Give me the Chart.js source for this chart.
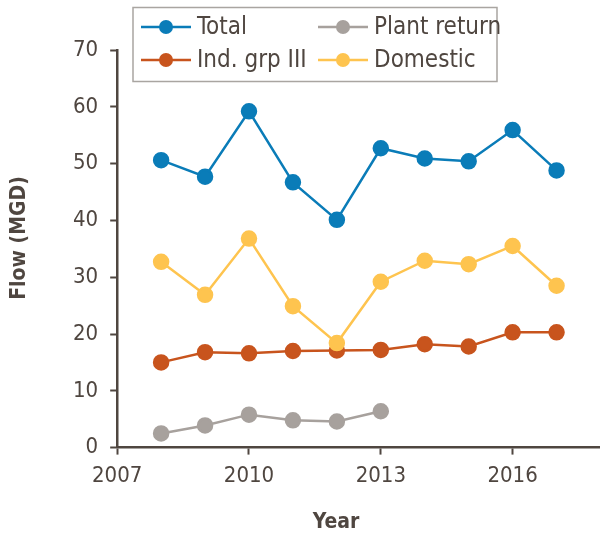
<!DOCTYPE html>
<html>
<head>
<meta charset="utf-8">
<script src="https://cdn.jsdelivr.net/npm/chart.js@4/dist/chart.umd.min.js"></script>
<style>
  html, body { margin: 0; background: #fff; overflow: hidden; }
  /* a little wider than the window so the x axis runs to the right edge */
  #wrap { width: 610px; height: 535px; position: relative; }
</style>
</head>
<body>
<div id="wrap"><canvas id="flowChart"></canvas></div>
<script>
// data
const years = [2008, 2009, 2010, 2011, 2012, 2013, 2014, 2015, 2016, 2017];
const totalFlow = [50.6, 47.7, 59.2, 46.7, 40.1, 52.7, 50.9, 50.4, 55.9, 48.8];
const indGrpIII = [15.0, 16.8, 16.6, 17.0, 17.1, 17.2, 18.2, 17.8, 20.3, 20.3];
const plantReturn = [2.5, 3.9, 5.8, 4.8, 4.6, 6.4];
const domestic = [32.7, 26.9, 36.8, 24.9, 18.4, 29.2, 32.9, 32.3, 35.5, 28.5];
const xTicks = [2007, 2010, 2013, 2016];
const yTicks = [0, 10, 20, 30, 40, 50, 60, 70];

const ink = '#4f4640';
const fontFamily = '"Liberation Sans Narrow", "DejaVu Sans Condensed", "Roboto Condensed", sans-serif';

function toPoints(values) {
    return values.map((v, i) => ({ x: years[i], y: v }));
}

function serie(label, values, color, order) {
    return {
        label: label,
        data: toPoints(values),
        borderColor: color,
        backgroundColor: color,
        pointBackgroundColor: color,
        pointBorderColor: color,
        pointRadius: 7,
        pointHoverRadius: 7,
        borderWidth: 2.5,
        tension: 0,
        order: order
    };
}

// legend box drawn by hand, two columns like the original
const boxLegend = {
    id: 'boxLegend',
    afterDraw(chart) {
        const ctx = chart.ctx;
        const sets = chart.data.datasets;
        const slots = [
            { i: 0, x: 141, y: 27 },
            { i: 2, x: 318, y: 27 },
            { i: 1, x: 141, y: 60 },
            { i: 3, x: 318, y: 60 }
        ];
        ctx.save();
        ctx.strokeStyle = '#a9a5a1';
        ctx.lineWidth = 1.5;
        ctx.strokeRect(133, 7.5, 364, 74);
        slots.forEach(s => {
            const ds = sets[s.i];
            ctx.strokeStyle = ds.borderColor;
            ctx.lineWidth = 2.5;
            ctx.beginPath();
            ctx.moveTo(s.x, s.y);
            ctx.lineTo(s.x + 50, s.y);
            ctx.stroke();
            ctx.fillStyle = ds.borderColor;
            ctx.beginPath();
            ctx.arc(s.x + 25, s.y, 7, 0, Math.PI * 2);
            ctx.fill();
            ctx.fillStyle = ink;
            ctx.font = '24px ' + fontFamily;
            ctx.textBaseline = 'middle';
            ctx.fillText(ds.label, s.x + 56, s.y + 1);
        });
        ctx.restore();
    }
};

// axis titles sit a bit off-centre in the original, so draw them here
const axisTitles = {
    id: 'axisTitles',
    afterDraw(chart) {
        const ctx = chart.ctx;
        const area = chart.chartArea;
        ctx.save();
        ctx.fillStyle = ink;
        ctx.font = 'bold 21px ' + fontFamily;
        ctx.textAlign = 'center';
        ctx.textBaseline = 'middle';
        ctx.fillText('Year', 336, area.bottom + 75);
        ctx.translate(20, 238);
        ctx.rotate(-Math.PI / 2);
        ctx.fillText('Flow (MGD)', 0, 0);
        ctx.restore();
    }
};

const ctxFlow = document.getElementById('flowChart').getContext('2d');
new Chart(ctxFlow, {
    type: 'line',
    data: {
        datasets: [
            serie('Total', totalFlow, '#0a7cb8', 1),
            serie('Ind. grp III', indGrpIII, '#c8541d', 2),
            serie('Plant return', plantReturn, '#a7a19d', 1),
            serie('Domestic', domestic, '#fec44f', 0)
        ]
    },
    options: {
        responsive: true,
        maintainAspectRatio: false,
        animation: false,
        layout: { padding: { top: 50, left: 61, right: 0, bottom: 38 } },
        plugins: {
            legend: { display: false },
            tooltip: { enabled: false }
        },
        scales: {
            x: {
                type: 'linear',
                min: 2007,
                max: 2018,
                afterBuildTicks: axis => { axis.ticks = xTicks.map(v => ({ value: v })); },
                grid: { drawOnChartArea: false, drawTicks: true, tickLength: 7, tickColor: ink, tickWidth: 2 },
                border: { display: true, color: ink, width: 2.5 },
                ticks: {
                    color: ink,
                    padding: 8,
                    maxRotation: 0,
                    font: { family: fontFamily, size: 22 },
                    callback: v => String(v)
                }
            },
            y: {
                min: 0,
                max: 70,
                afterBuildTicks: axis => { axis.ticks = yTicks.map(v => ({ value: v })); },
                grid: { drawOnChartArea: false, drawTicks: true, tickLength: 7, tickColor: ink, tickWidth: 2 },
                border: { display: true, color: ink, width: 2.5 },
                ticks: {
                    color: ink,
                    padding: 12,
                    font: { family: fontFamily, size: 22 }
                }
            }
        }
    },
    plugins: [boxLegend, axisTitles]
});
</script>
</body>
</html>
